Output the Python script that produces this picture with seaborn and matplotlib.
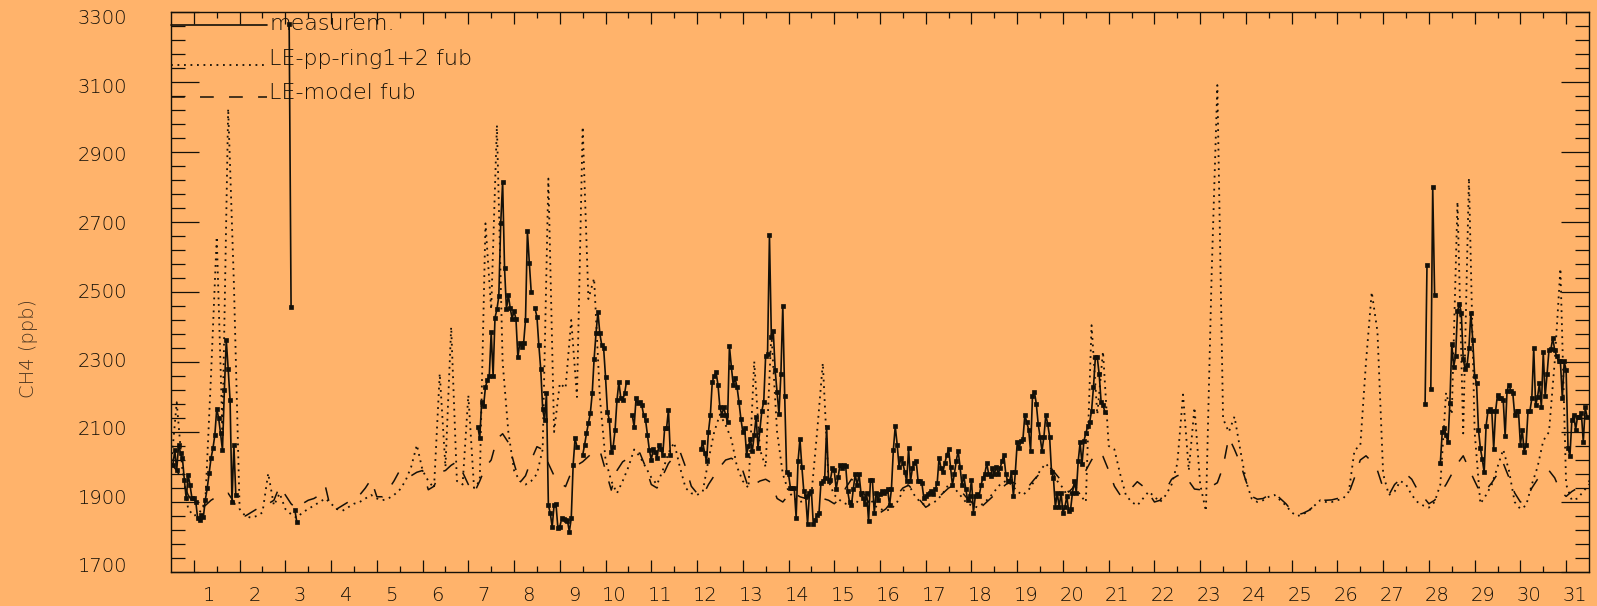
import os
import numpy as np
import pandas as pd
import matplotlib
matplotlib.use("Agg")
import matplotlib.pyplot as plt
import matplotlib.transforms as mtransforms
from matplotlib import font_manager as fm
from matplotlib.ticker import FixedLocator
import seaborn as sns

# ---------------------------------------------------------------------------
# CH4 at the station, one month: hourly measurements (several stretches with
# gaps) and two model runs sampled every 3 hours.
# ---------------------------------------------------------------------------
day_labels = [str(d) for d in range(1, 32)]
y_ticks = [1700, 1900, 2100, 2300, 2500, 2700, 2900, 3100, 3300]

# measurement stretches: first hour (hours since start of month) and hourly values
meas_start = [1, 62, 65, 161, 191, 216, 242, 278, 658, 661, 666]
meas_a = [2006, 2048, 1991, 2063, 2040, 2025, 1963, 1910, 1977, 1948, 1910, 1910,
          1901, 1853, 1849, 1863, 1858, 1906, 1939, 1982, 2025, 2053, 2091, 2167,
          2139, 2096, 2048, 2220, 2363, 2280, 2191, 1901, 2063, 1920]
meas_b = [3265, 2457]
meas_c = [1877, 1843]
meas_d = [2115, 2082, 2186, 2174, 2229, 2248, 2260, 2385, 2260, 2427, 2450, 2488,
          2696, 2815, 2569, 2450, 2491, 2453, 2424, 2446, 2422, 2313, 2355, 2344,
          2353, 2420, 2674, 2584, 2499]
meas_e = [2453, 2429, 2348, 2279, 2167, 2134, 2210, 1891, 1868, 1829, 1891, 1894,
          1825, 1829, 1853, 1850, 1849, 1847, 1815, 1853, 2006, 2082, 2058]
meas_f = [2034, 2063, 2096, 2125, 2153, 2210, 2309, 2382, 2443, 2382, 2348, 2339,
          2256, 2158, 2134, 2044, 2058, 2106, 2191, 2244, 2196, 2191, 2210, 2244]
meas_g = [2148, 2115, 2196, 2182, 2186, 2177, 2148, 2134, 2091, 2048, 2020, 2050,
          2044, 2025, 2063, 2050, 2034, 2110, 2110, 2163, 2034]
meas_h = [2051, 2070, 2040, 2017, 2101, 2149, 2244, 2260, 2271, 2234, 2170, 2149,
          2170, 2149, 2128, 2345, 2287, 2234, 2253, 2228, 2186, 2138, 2101, 2112,
          2035, 2060, 2080, 2045, 2091, 2144, 2054, 2107, 2160, 2186, 2318, 2323,
          2662, 2371, 2389, 2276, 2213, 2151, 2266, 2461, 2202, 1985, 1980, 1940,
          1940, 1940, 1855, 2017, 2080, 2001, 1932, 1916, 1837, 1927, 1932, 1837,
          1848, 1863, 1869, 1954, 1959, 1969, 2115, 1959, 1964, 1996, 1990, 1937,
          1970, 2006, 1996, 2006, 2003, 1932, 1900, 1890, 1937, 1980, 1948, 1980,
          1927, 1911, 1895, 1927, 1845, 1964, 1964, 1869, 1927, 1906, 1922, 1932,
          1927, 1930, 1937, 1890, 1937, 2048, 2117, 2064, 2001, 2027, 2011, 1985,
          1959, 2054, 1959, 1996, 2011, 2017, 1959, 1959, 1953, 1911, 1916, 1922,
          1927, 1932, 1922, 1937, 1953, 2027, 1996, 1985, 2011, 2033, 2052, 2001,
          1948, 1980, 2017, 2046, 2001, 1948, 1974, 1937, 1906, 1916, 1964, 1869,
          1916, 1922, 1916, 1948, 1969, 1980, 2011, 1980, 1974, 1996, 1980, 2001,
          1980, 1996, 2017, 2033, 1980, 1959, 1959, 1985, 1916, 1985, 2070, 2054,
          2075, 2080, 2149, 2128, 2107, 2046, 2202, 2215, 2181, 2123, 2086, 2046,
          2086, 2149, 2123, 2086, 1985, 1969, 1885, 1927, 1885, 1927, 1869, 1885,
          1916, 1874, 1879, 1927, 1959, 1927, 2017, 2070, 2009, 2075, 2096, 2117,
          2128, 2160, 2228, 2313, 2313, 2265, 2186, 2176, 2158]
meas_i = [2181, 2578]
meas_j = [2223, 2800, 2491]
meas_k = [2011, 2100, 2112, 2091, 2070, 2183, 2352, 2287, 2316, 2445, 2466, 2440,
          2308, 2281, 2290, 2340, 2440, 2363, 2260, 2239, 2107, 2054, 2022, 1985,
          2117, 2160, 2165, 2160, 2052, 2160, 2207, 2196, 2196, 2191, 2088, 2218,
          2234, 2218, 2212, 2149, 2160, 2160, 2064, 2105, 2043, 2064, 2160, 2160,
          2196, 2340, 2176, 2200, 2239, 2170, 2328, 2202, 2265, 2334, 2336, 2369,
          2334, 2318, 2302, 2302, 2196, 2302, 2276, 2054, 2032, 2133, 2149, 2107,
          2144, 2144, 2154, 2070, 2170, 2144]
meas_values = [meas_a, meas_b, meas_c, meas_d, meas_e, meas_f, meas_g, meas_h,
               meas_i, meas_j, meas_k]

# LE-pp-ring1+2 fub, 3-hourly from day 0.0 to 31.0
pp_ring = [
    2000, 2185, 1990, 1880, 1860, 1870, 1900, 2263,
    2658, 2100, 3024, 2524, 1880, 1860, 1855, 1860,
    1870, 1982, 1890, 1925, 1880, 1865, 1855, 1870,
    1880, 1890, 1900, 1910, 1895, 1880, 1875, 1885,
    1895, 1900, 1910, 1920, 1910, 1905, 1910, 1920,
    1935, 1960, 2000, 2063, 1990, 1960, 1940, 2267,
    2000, 2400, 1960, 1950, 2205, 1940, 1960, 2696,
    2450, 2977, 2300, 2100, 1990, 1960, 1950, 1960,
    1980, 2050, 2824, 2100, 2239, 2225, 2420, 2200,
    2972, 2480, 2539, 2200, 2020, 1960, 1925, 1960,
    2000, 2050, 2030, 2000, 1970, 1950, 1990, 2040,
    2070, 2000, 1940, 1925, 1920, 1930, 2020, 2100,
    2150, 2120, 2080, 2000, 1960, 1940, 2302, 2050,
    2000, 2382, 2100, 1980, 1930, 1910, 1900, 1905,
    1920, 2100, 2297, 1960, 1920, 1905, 1895, 1890,
    1900, 1930, 1920, 1890, 1880, 1875, 1880, 1900,
    1930, 1950, 1920, 1900, 1890, 1895, 1905, 1925,
    1950, 1940, 1920, 1900, 1890, 1885, 1895, 1910,
    1930, 1950, 1960, 1950, 1930, 1920, 1935, 1960,
    1990, 2010, 1990, 1960, 1940, 1910, 1950, 1920,
    1900, 2405, 2150, 2330, 2060, 2050, 1980, 1920,
    1900, 1890, 1910, 1930, 1915, 1900, 1920, 1950,
    2010, 2207, 1990, 2170, 1950, 1874, 2550, 3091,
    2138, 2100, 2144, 2050, 1960, 1910, 1900, 1905,
    1915, 1920, 1905, 1890, 1870, 1860, 1865, 1875,
    1890, 1905, 1900, 1900, 1905, 1910, 1930, 2049,
    2060, 2300, 2500, 2387, 1980, 1920, 1930, 1960,
    1950, 1920, 1900, 1890, 1884, 1900, 1950, 2212,
    2150, 2758, 2096, 2826, 2100, 1895, 1920, 1950,
    2000, 2050, 1990, 1900, 1880, 1890, 1950, 2000,
    2075, 2100, 2300, 2567, 1950, 1905, 1910, 1930,
    1950]

# LE-model fub, 3-hourly from day 0.0 to 31.0
le_model = [
    2010, 1990, 1960, 1920, 1895, 1880, 1890, 1905,
    1915, 1920, 1925, 1900, 1868, 1860, 1870, 1880,
    1885, 1895, 1905, 1945, 1920, 1895, 1880, 1895,
    1905, 1910, 1920, 1945, 1875, 1880, 1890, 1900,
    1905, 1920, 1940, 1965, 1915, 1915, 1935, 1960,
    1990, 1980, 1975, 1985, 1990, 1935, 1945, 1985,
    1990, 2005, 2015, 1985, 1950, 1925, 1960, 2000,
    2020, 2080, 2095, 2070, 2010, 1955, 1975, 2020,
    2058, 2050, 2010, 1975, 1955, 1944, 1985, 2005,
    2015, 2030, 2045, 2048, 1990, 1934, 1990, 2015,
    2025, 2035, 2040, 2000, 1950, 1940, 1975, 2010,
    2030, 2045, 2000, 1945, 1925, 1918, 1950, 1975,
    2000, 2020, 2025, 2015, 1990, 1940, 1950, 1960,
    1965, 1955, 1910, 1900, 1920, 1925, 1915, 1910,
    1920, 1918, 1910, 1905, 1895, 1910, 1940, 1965,
    1955, 1930, 1900, 1880, 1869, 1880, 1900, 1920,
    1940, 1948, 1930, 1905, 1885, 1895, 1910, 1925,
    1940, 1948, 1935, 1915, 1900, 1876, 1890, 1905,
    1920, 1935, 1950, 1958, 1950, 1940, 1945, 1965,
    1982, 2000, 1995, 1975, 1955, 1928, 1945, 1970,
    1990, 2020, 2043, 2030, 1990, 1945, 1920, 1925,
    1940, 1958, 1945, 1925, 1900, 1905, 1935, 1965,
    1975, 1980, 1960, 1937, 1935, 1937, 1945, 1955,
    2000, 2085, 2050, 2011, 1960, 1916, 1908, 1910,
    1920, 1926, 1910, 1895, 1875, 1863, 1868, 1876,
    1890, 1906, 1905, 1906, 1910, 1915, 1925, 1970,
    2020, 2032, 2015, 1990, 1940, 1920, 1950, 1965,
    1980, 1965, 1935, 1915, 1895, 1905, 1926, 1950,
    1980, 2010, 2032, 1995, 1960, 1926, 1935, 1955,
    1980, 2011, 1970, 1926, 1900, 1905, 1940, 1965,
    1985, 1990, 1969, 1930, 1916, 1930, 1940, 1950,
    1960]

# ---------------------------------------------------------------------------
ink = "#141008"
bg = "#ffb36b"


def thin_font():
    """Return (family, weight) of the lightest installed sans face available."""
    for fam, w in [("DejaVu Sans", 200), ("Lato", 300), ("Roboto", 300),
                   ("Open Sans", 300), ("Noto Sans", 300)]:
        try:
            path = fm.findfont(fm.FontProperties(family=fam, weight=w),
                               fallback_to_default=False)
        except Exception:
            continue
        name = os.path.basename(path).lower()
        if "light" in name or "thin" in name:
            return fam, w
    return "DejaVu Sans", "normal"


rows = []
for seg, (h0, vals) in enumerate(zip(meas_start, meas_values)):
    for i, v in enumerate(vals):
        rows.append({"day": (h0 + i) / 24.0, "ch4": v, "seg": seg})
meas_df = pd.DataFrame(rows)

model_df = pd.DataFrame({
    "day": np.arange(len(pp_ring)) / 8.0,
    "pp_ring": pp_ring,
    "le_model": le_model,
})

sns.set_style("ticks", rc={"axes.facecolor": bg, "figure.facecolor": bg,
                           "axes.edgecolor": ink, "xtick.color": ink,
                           "ytick.color": ink, "text.color": ink})
family, weight = thin_font()
plt.rcParams["font.family"] = [family, "DejaVu Sans"]
plt.rcParams["font.weight"] = weight

W, H = 1597, 606
fig = plt.figure(figsize=(W / 100, H / 100), dpi=100, facecolor=bg)
ax = fig.add_axes([171 / W, 34 / H, 1418 / W, 560 / H], facecolor=bg)

dotted = (0, (1.0, 2.6))
dashed = (0, (9.0, 10.0))

sns.lineplot(data=model_df, x="day", y="pp_ring", ax=ax, color=ink, lw=1.3,
             linestyle=dotted, estimator=None, sort=False)
sns.lineplot(data=model_df, x="day", y="le_model", ax=ax, color=ink, lw=1.1,
             linestyle=dashed, estimator=None, sort=False)
sns.lineplot(data=meas_df, x="day", y="ch4", units="seg", estimator=None,
             sort=False, ax=ax, color=ink, lw=1.2, marker="s", markersize=2.6,
             markeredgewidth=0.5, markeredgecolor=ink)

ax.set_xlim(0, 31)
ax.set_ylim(1700, 3300)
ax.set_xlabel("")
ax.set_ylabel("")

ax.xaxis.set_major_locator(FixedLocator(np.arange(0.5, 31, 1.0)))
ax.set_xticklabels(day_labels)
ax.xaxis.set_minor_locator(FixedLocator(np.arange(1, 31)))
ax.yaxis.set_major_locator(FixedLocator(y_ticks))
ax.set_yticklabels([str(v) for v in y_ticks])
ax.yaxis.set_minor_locator(FixedLocator(np.arange(1700, 3301, 40)))

ax.tick_params(axis="x", which="major", direction="in", length=8.6, width=0.9,
               top=True, bottom=True, pad=10.0, labelsize=14)
ax.tick_params(axis="x", which="minor", direction="in", length=4.3, width=0.9,
               top=True, bottom=True)
ax.tick_params(axis="y", which="major", direction="in", length=20, width=0.9,
               left=True, right=True, pad=31.5, labelsize=14)
ax.tick_params(axis="y", which="minor", direction="in", length=10, width=0.9,
               left=True, right=True)
for sp in ax.spines.values():
    sp.set_visible(True)
    sp.set_linewidth(1.0)
    sp.set_color(ink)

# day numbers sit just right of the noon ticks
shift_x = mtransforms.ScaledTranslation(0.21, 0, fig.dpi_scale_trans)
for lab in ax.get_xticklabels():
    lab.set_horizontalalignment("right")
    lab.set_transform(lab.get_transform() + shift_x)
for i, lab in enumerate(ax.get_yticklabels()):
    dy = (7 - 1.5 * i) / 100.0
    lab.set_transform(lab.get_transform() +
                      mtransforms.ScaledTranslation(0, dy, fig.dpi_scale_trans))

fig.text(29 / W, 1 - 348 / H, "CH4 (ppb)", rotation=90, ha="center",
         va="center", fontsize=14, color="#4a3520")

# legend drawn in the upper-left corner of the frame
key_x = [0.0, 96 / 1418]
keys = [
    ("measurem.", "-", 1.2, 0.9768, 0.9679),
    ("LE-pp-ring1+2 fub", dotted, 1.3, 0.9054, 0.9054),
    ("LE-model fub", dashed, 1.1, 0.8482, 0.8446),
]
for label, ls, lw, y_line, y_text in keys:
    ax.plot(key_x, [y_line, y_line], transform=ax.transAxes, color=ink,
            lw=lw, linestyle=ls, clip_on=False)
    ax.text(98 / 1418, y_text, label, transform=ax.transAxes, ha="left",
            va="baseline", fontsize=16, color=ink)

fig.savefig("out.png", dpi=100, facecolor=bg)
